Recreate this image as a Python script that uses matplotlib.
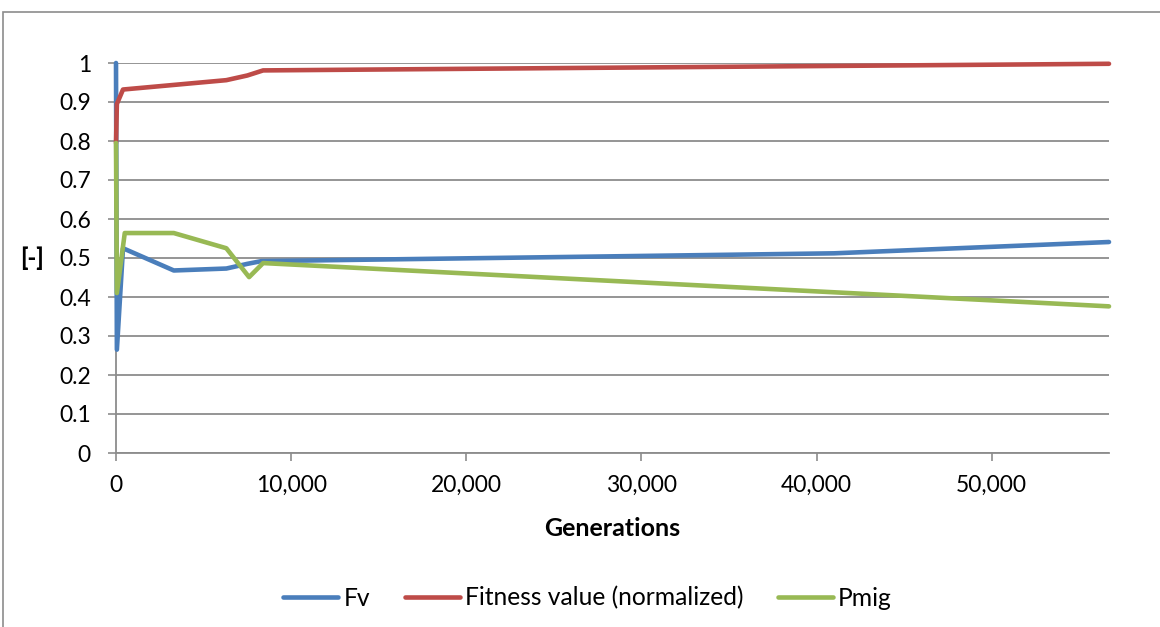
import matplotlib
matplotlib.use('Agg')
import matplotlib.pyplot as plt
from matplotlib.patches import Rectangle
from matplotlib.ticker import FuncFormatter, MultipleLocator

plt.rcParams['font.family'] = ['Lato', 'DejaVu Sans']

# generations and values
fv_gen = [0, 50, 400, 3300, 6300, 7500, 8300, 41000, 56700]
fv_val = [1.0, 0.265, 0.525, 0.468, 0.473, 0.485, 0.492, 0.512, 0.541]

fit_gen = [0, 50, 400, 6300, 7500, 8400, 56700]
fit_val = [0.795, 0.895, 0.932, 0.956, 0.968, 0.981, 0.998]

pmig_gen = [0, 50, 500, 3300, 6300, 7600, 8400, 56700]
pmig_val = [0.795, 0.41, 0.564, 0.564, 0.525, 0.451, 0.487, 0.376]

labels = ['Fv', 'Fitness value (normalized)', 'Pmig']
colors = ['#4A7EBB', '#BE4B48', '#98B954']

W, H = 1160, 627
fig = plt.figure(figsize=(W / 100, H / 100), dpi=100)

# chart frame (cropped on the right and bottom)
fig.patches.append(Rectangle((3 / W, -0.1), 1.2, 1 - 12 / H + 0.1, transform=fig.transFigure,
                             fill=False, edgecolor='#8C8C8C', linewidth=1.2))

ax = fig.add_axes([116 / W, 1 - 453 / H, (1109 - 116) / W, (453 - 63) / H])

series = [(fv_gen, fv_val), (fit_gen, fit_val), (pmig_gen, pmig_val)]
for (g, v), lab, c in zip(series, labels, colors):
    ax.plot(g, v, color=c, linewidth=3.3, label=lab, clip_on=False,
            solid_capstyle='round', solid_joinstyle='round', zorder=3)

ax.set_xlim(0, 56700)
ax.set_ylim(0, 1)
ax.xaxis.set_major_locator(MultipleLocator(10000))
ax.yaxis.set_major_locator(MultipleLocator(0.1))
ax.xaxis.set_major_formatter(FuncFormatter(lambda x, p: '{:,.0f}'.format(x)))
ax.yaxis.set_major_formatter(FuncFormatter(lambda y, p: '{:g}'.format(round(y, 1))))

ax.grid(axis='y', color='#8C8C8C', linewidth=1.3)
ax.set_axisbelow(True)
for s in ['top', 'right']:
    ax.spines[s].set_visible(False)
for s in ['left', 'bottom']:
    ax.spines[s].set_color('#8C8C8C')
    ax.spines[s].set_linewidth(1.3)
ax.tick_params(axis='both', colors='#8C8C8C', labelcolor='black', labelsize=16.5,
               length=6, width=1.2, direction='out')
ax.tick_params(axis='y', pad=12)
ax.tick_params(axis='x', pad=10)

ax.set_xlabel('Generations', fontsize=18, fontweight='bold', labelpad=15)
fig.text(32 / W, 1 - 258 / H, '[-]', fontsize=17, fontweight='black', ha='center', va='center')

leg = ax.legend(loc='center', bbox_to_anchor=(0.475, -(598 - 453) / 390), ncol=3,
                frameon=False, fontsize=17.7, handlelength=2.24, handletextpad=0.2,
                columnspacing=1.42)

fig.savefig('out.png', dpi=100)
